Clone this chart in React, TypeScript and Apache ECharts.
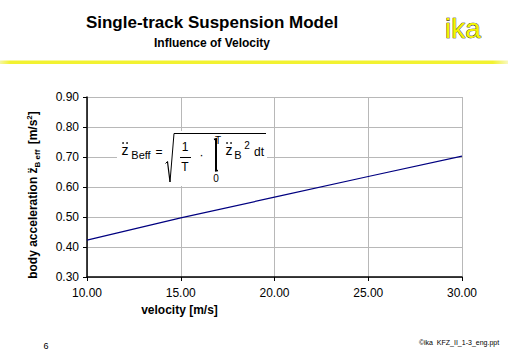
import React, { useEffect, useRef } from "react";
import * as echarts from "echarts";

const velocity = [10, 15, 20, 25, 30];
const bodyAccel = [0.423, 0.497, 0.566, 0.635, 0.703];
const xTicks = { min: 10, max: 30, interval: 5 };
const yTicks = { min: 0.3, max: 0.9, interval: 0.1 };

const FONT = "'Liberation Sans', Arial, sans-serif";

export default function App() {
  const ref = useRef<HTMLDivElement>(null);
  useEffect(() => {
    if (!ref.current) return;
    const chart = echarts.init(ref.current, null, { renderer: "svg" });
    const txt = (x: number, y: number, text: string, size: number, extra: any = {}) => ({
      type: "text",
      x,
      y,
      z: 20,
      style: {
        text,
        fontFamily: FONT,
        fontSize: size,
        fill: "#000",
        align: "center",
        verticalAlign: "middle",
        ...extra,
      },
    });
    const ln = (x1: number, y1: number, x2: number, y2: number, w = 1) => ({
      type: "line",
      z: 20,
      shape: { x1, y1, x2, y2 },
      style: { stroke: "#000", lineWidth: w },
    });
    const dot = (cx: number, cy: number) => ({
      type: "circle",
      z: 20,
      shape: { cx, cy, r: 0.8 },
      style: { fill: "#000" },
    });
    chart.setOption({
      animation: false,
      backgroundColor: "#fff",
      grid: { left: 87, right: 50, top: 97, bottom: 77 },
      xAxis: {
        type: "value",
        min: xTicks.min,
        max: xTicks.max,
        interval: xTicks.interval,
        name: "velocity [m/s]",
        nameLocation: "middle",
        nameGap: 27,
        nameTextStyle: { fontFamily: FONT, fontSize: 12, fontWeight: "bold", color: "#000", padding: [0, 190, 0, 0] },
        axisLine: { lineStyle: { color: "#000", width: 1.5 } },
        axisTick: { show: true, length: 4, lineStyle: { color: "#000" } },
        axisLabel: {
          fontFamily: FONT,
          fontSize: 12,
          color: "#000",
          margin: 10,
          formatter: (v: number) => v.toFixed(2),
        },
        splitLine: { show: true, lineStyle: { color: "#b8b8b8", width: 1 } },
      },
      yAxis: {
        type: "value",
        min: yTicks.min,
        max: yTicks.max,
        interval: yTicks.interval,
        axisLine: { show: true, lineStyle: { color: "#000", width: 1.5 } },
        axisTick: { show: true, length: 4, lineStyle: { color: "#000" } },
        axisLabel: {
          fontFamily: FONT,
          fontSize: 12,
          color: "#000",
          margin: 8,
          formatter: (v: number) => v.toFixed(2),
        },
        splitLine: { show: true, lineStyle: { color: "#b8b8b8", width: 1 } },
      },
      series: [
        {
          type: "line",
          data: velocity.map((v, i) => [v, bodyAccel[i]]),
          showSymbol: false,
          lineStyle: { color: "#000080", width: 1.2 },
          z: 5,
        },
      ],
      graphic: [
        txt(212, 22, "Single-track Suspension Model", 17, { fontWeight: "bold" }),
        txt(212, 43, "Influence of Velocity", 12, { fontWeight: "bold" }),
        {
          type: "text",
          x: 463,
          y: 42,
          z: 20,
          style: {
            text: "ika",
            fontFamily: FONT,
            fontSize: 28,
            fill: "#f4f400",
            stroke: "#000",
            lineWidth: 0.7,
            align: "center",
            verticalAlign: "bottom",
          },
        },
        {
          type: "rect",
          z: 10,
          shape: { x: 0, y: 60.5, width: 508, height: 3.5 },
          style: {
            fill: new echarts.graphic.LinearGradient(0, 0, 1, 0, [
              { offset: 0, color: "#f6f6a0" },
              { offset: 0.02, color: "#f2f230" },
              { offset: 0.97, color: "#f2f230" },
              { offset: 1, color: "#f8f8c0" },
            ]),
          },
        },
        // y axis title (rotated)
        {
          type: "text",
          x: 33,
          y: 195,
          rotation: Math.PI / 2,
          z: 20,
          style: {
            text: "{a|body acceleration }{z|z\u0308}{sub|B eff}{a| [m/s}{sup|2}{a|]}",
            fontFamily: FONT,
            align: "center",
            verticalAlign: "middle",
            rich: {
              a: { fontFamily: FONT, fontSize: 12, fontWeight: "bold", color: "#000", lineHeight: 16, verticalAlign: "middle" },
              z: { fontFamily: FONT, fontSize: 12, fontWeight: "bold", color: "#000", lineHeight: 16, verticalAlign: "middle" },
              sub: { fontFamily: FONT, fontSize: 8, fontWeight: "bold", color: "#000", lineHeight: 8, verticalAlign: "bottom", padding: [0, 2, 0, 0] },
              sup: { fontFamily: FONT, fontSize: 8, fontWeight: "bold", color: "#000", lineHeight: 8, verticalAlign: "top" },
            },
          },
        },
        // formula box
        {
          type: "rect",
          z: 15,
          shape: { x: 117, y: 131, width: 150, height: 55 },
          style: { fill: "#fff" },
        },
        txt(125, 150, "z", 14),
        dot(123, 143),
        dot(127, 143),
        txt(141, 155, "Beff", 11),
        txt(159, 152, "=", 12),
        ln(165.5, 163.5, 167.5, 161.5, 1),
        ln(167.5, 161.5, 170, 182, 1.2),
        ln(170, 182, 174, 133.5, 1),
        ln(174, 133.5, 266, 133.5, 1),
        txt(185, 147, "1", 12),
        ln(180, 157.5, 191, 157.5, 1),
        txt(185, 167, "T", 12),
        txt(201.5, 155, "\u00b7", 12),
        ln(216, 139, 216, 171, 2),
        ln(214, 139.5, 217, 138.5, 1.5),
        ln(215, 171, 218, 170.5, 1.5),
        txt(218, 140, "T", 10),
        txt(216, 178, "0", 10),
        txt(229, 150, "z", 14),
        dot(227, 143),
        dot(231, 143),
        txt(238, 155, "B", 11),
        txt(247, 145, "2", 10),
        txt(259, 152, "dt", 12),
        txt(46, 346, "6", 9),
        txt(459, 342, "\u00a9ika  KFZ_II_1-3_eng.ppt", 7),
      ],
    });
    return () => chart.dispose();
  }, []);
  return (
    <div
      ref={ref}
      style={{ position: "fixed", left: 0, top: 0, width: 512, height: 354, background: "#fff" }}
    />
  );
}
